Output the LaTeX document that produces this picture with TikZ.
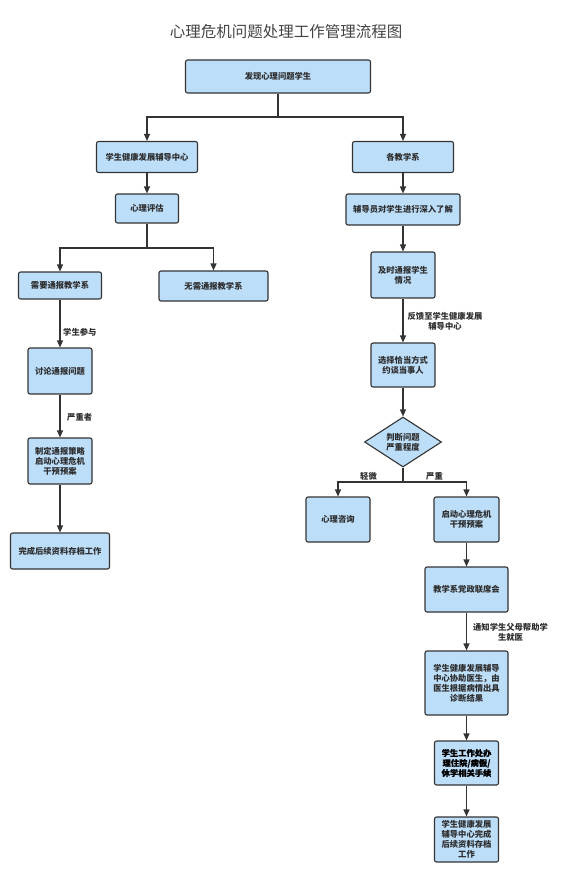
\documentclass[tikz,border=0pt]{standalone}
\usepackage{fontspec}
\setmainfont{Noto Sans CJK SC}
\newfontfamily\heavyfont{Noto Sans CJK SC}[BoldFeatures={FakeBold=0.5}]
\usetikzlibrary{arrows.meta, shapes.geometric}
\definecolor{boxblue}{RGB}{189,222,249}
\definecolor{lineg}{RGB}{51,51,51}
\definecolor{textg}{RGB}{45,45,45}
\definecolor{titleg}{RGB}{68,68,68}

\begin{document}
\begin{tikzpicture}[x=1pt, y=-1pt, >={Triangle[length=7pt,width=6pt]},
  box/.style={draw=lineg, fill=boxblue, line width=1.1pt, rounded corners=2pt,
    inner sep=0pt, align=center, text=textg,
    font=\fontsize{8.3}{10}\selectfont\bfseries},
  judgebox/.style={box, diamond, rounded corners=0pt, aspect=1.54},
  lbl/.style={inner sep=0pt, align=center, text=textg,
    font=\fontsize{8.3}{10}\selectfont\bfseries},
  flow/.style={draw=lineg, line width=1.1pt}]
  \useasboundingbox (0,0) rectangle (563,875);
  % title
  \node[text=titleg, font=\fontsize{15.5}{18}\selectfont] (title) at (286,32)
    {心理危机问题处理工作管理流程图};
  % top: split into the two branches
  \node[box, minimum width=185pt, minimum height=33pt] (found) at (278,76.5) {发现心理问题学生};
  \node[box, minimum width=101pt, minimum height=31pt] (center) at (147,157) {学生健康发展辅导中心};
  \node[box, minimum width=101pt, minimum height=31pt] (dept) at (403,157) {各教学系};
  \coordinate (j1) at (278,117);
  \draw[flow] (found) -- (j1);
  \draw[flow,->] (j1) -| (center);
  \draw[flow,->] (j1) -| (dept);
  % left branch: counselling centre
  \node[box, minimum width=63pt, minimum height=29pt] (assess) at (147,208.5) {心理评估};
  \node[box, minimum width=83pt, minimum height=27pt] (report) at (60,285.5) {需要通报教学系};
  \node[box, minimum width=109pt, minimum height=30pt] (noreport) at (213.5,286) {无需通报教学系};
  \node[box, minimum width=64pt, minimum height=46pt] (discuss) at (60,371) {讨论通报问题};
  \node[box, minimum width=64pt, minimum height=46pt] (plan) at (60,461) {制定通报策略\\启动心理危机\\干预预案};
  \node[box, minimum width=99pt, minimum height=36pt] (archiveL) at (60,551) {完成后续资料存档工作};
  \coordinate (j2) at (147,248);
  \draw[flow,->] (center) -- (assess);
  \draw[flow] (assess) -- (j2);
  \draw[flow,->] (j2) -| (report);
  \draw[flow,->] (j2) -| (noreport);
  \draw[flow,->] (report) -- (discuss);
  \draw[flow,->] (discuss) -- (plan);
  \draw[flow,->] (plan) -- (archiveL);
  \node[lbl, anchor=west] (joinlbl) at (63,332) {学生参与};
  \node[lbl, anchor=west] (severelbl) at (67,417) {严重者};
  % right branch: departments
  \node[box, minimum width=114pt, minimum height=31pt] (tutor) at (403,209.5) {辅导员对学生进行深入了解};
  \node[box, minimum width=64pt, minimum height=46pt] (inform) at (403,275) {及时通报学生\\情况};
  \node[box, minimum width=64pt, minimum height=44pt] (talk) at (403,365) {选择恰当方式\\约谈当事人};
  \node[judgebox, minimum width=77pt, minimum height=50pt] (judge) at (403,442) {判断问题\\严重程度};
  \node[box, minimum width=64pt, minimum height=45pt] (consult) at (338,519.5) {心理咨询};
  \node[box, minimum width=65pt, minimum height=45pt] (crisis) at (466.5,519.5) {启动心理危机\\干预预案};
  \draw[flow,->] (dept) -- (tutor);
  \draw[flow,->] (tutor) -- (inform);
  \draw[flow,->] (inform) -- (talk);
  \draw[flow,->] (talk) -- (judge);
  \node[lbl] (feedlbl) at (445,321) {反馈至学生健康发展\\辅导中心};
  \coordinate (j3) at (403,482);
  \draw[flow] (judge) -- (j3);
  \draw[flow,->] (j3) -| (consult);
  \draw[flow,->] (j3) -| (crisis);
  \node[lbl] (mildlbl) at (368.5,476) {轻微};
  \node[lbl] (heavylbl) at (434.5,476) {严重};
  % serious cases
  \node[box, minimum width=83pt, minimum height=45pt] (meeting) at (466.5,589.5) {教学系党政联席会};
  \node[box, minimum width=83pt, minimum height=64pt] (doctor) at (466.5,683) {学生健康发展辅导\\中心协助医生，由\\医生根据病情出具\\诊断结果};
  \node[box, minimum width=64pt, minimum height=44pt, text=black,
    font=\fontsize{8.3}{10}\heavyfont\bfseries] (affairs) at (466.5,763) {学生工作处办\\理住院/病假/\\休学相关手续};
  \node[box, minimum width=64pt, minimum height=45pt] (archiveR) at (466.5,839.5) {学生健康发展\\辅导中心完成\\后续资料存档\\工作};
  \draw[flow,->] (crisis) -- (meeting);
  \draw[flow,->] (meeting) -- (doctor);
  \draw[flow,->] (doctor) -- (affairs);
  \draw[flow,->] (affairs) -- (archiveR);
  \node[lbl] (parentlbl) at (510.5,632) {通知学生父母帮助学\\生就医};
\end{tikzpicture}
\end{document}
